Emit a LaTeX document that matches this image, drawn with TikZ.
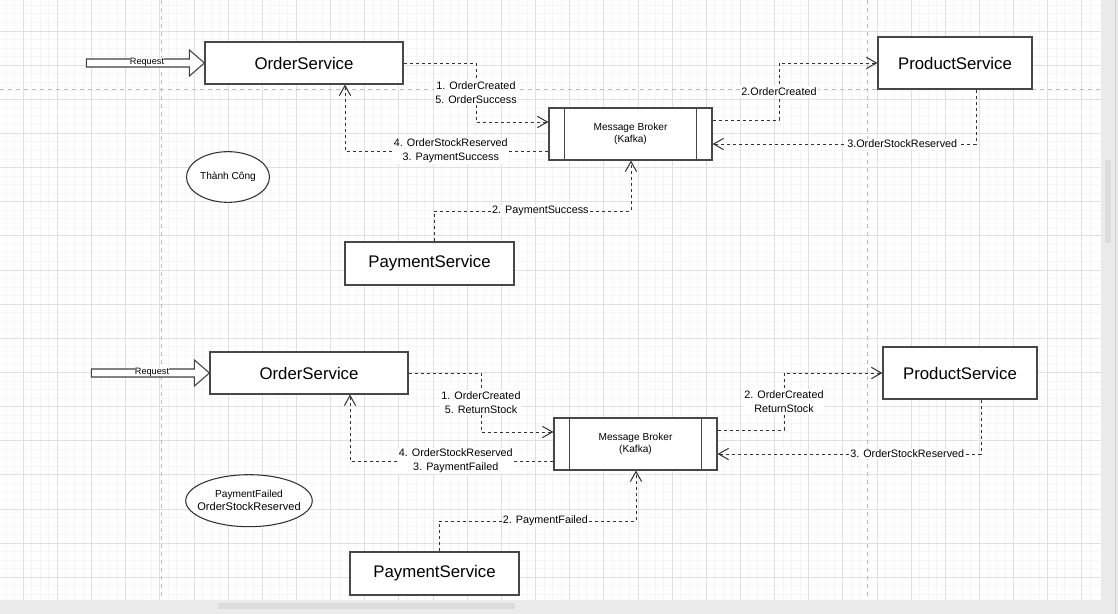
\documentclass[tikz,border=0pt]{standalone}
\usepackage{fontspec}
\setmainfont{Liberation Sans}
\usetikzlibrary{arrows.meta, shapes.geometric, positioning}
\definecolor{gridminor}{HTML}{F6F6F6}
\definecolor{gridmajor}{HTML}{E0E0E0}
\definecolor{pageline}{HTML}{BDBDBD}
\definecolor{edgegray}{HTML}{333333}
\definecolor{uibar}{HTML}{EBEBEB}
\definecolor{uithumb}{HTML}{DCDCDC}
\tikzset{
  service/.style={draw=black!72, line width=0.9pt, fill=white, inner sep=0pt, font=\fontsize{12.6}{15}\selectfont},
  broker/.style={draw=black!72, line width=0.9pt, fill=white, minimum width=122.25pt, minimum height=39pt, align=center, font=\fontsize{7.6}{9}\selectfont},
  flow/.style={draw=edgegray, line width=0.75pt, dash pattern=on 2.25pt off 2.25pt, -{Straight Barb[length=7.5pt,width=8.5pt]}},
  lbl/.style={fill=white, inner sep=1pt, align=center, font=\fontsize{8.1}{10.5}\selectfont},
  reqarrow/.style={draw=black!75, line width=0.8pt, fill=white},
  note/.style={ellipse, draw=black!80, line width=0.8pt, fill=white, inner sep=0pt, align=center}
}

\begin{document}
\begin{tikzpicture}[x=0.75pt, y=-0.75pt]
\useasboundingbox (0,0) rectangle (1118,614);
\fill[white] (0,0) rectangle (1118,614);
% grid
\foreach \i in {0,...,127} \draw[gridminor, line width=0.75pt] ({6.225+\i*8.5375},0) -- ({6.225+\i*8.5375},600);
\foreach \i in {0,...,69} \draw[gridminor, line width=0.75pt] (0,{5.39+\i*8.5375}) -- (1101,{5.39+\i*8.5375});
\foreach \i in {0,...,31} \draw[gridmajor, line width=0.75pt] ({23.3+\i*34.15},0) -- ({23.3+\i*34.15},600);
\foreach \i in {0,...,16} \draw[gridmajor, line width=0.75pt] (0,{31+\i*34.15}) -- (1101,{31+\i*34.15});
% page breaks
\draw[pageline, line width=0.75pt, dash pattern=on 3pt off 3pt] (0,89) -- (1101,89);
\draw[pageline, line width=0.75pt, dash pattern=on 3pt off 3pt] (161.5,0) -- (161.5,600);
\draw[pageline, line width=0.75pt, dash pattern=on 3pt off 3pt] (867,0) -- (867,600);
% scroll bars
\fill[uibar] (1101,0) rectangle (1118,614);
\fill[uibar] (0,600) rectangle (1101,614);
\draw[black!18, line width=0.75pt] (1115.5,0) -- (1115.5,614);
\fill[uithumb] (1104.5,160) rectangle (1111,243);
\fill[uithumb] (218,603) rectangle (515,609);

% Top: Thanh Cong flow
\begin{scope}[shift={(0,0)}]
\node[service, minimum width=148.5pt, minimum height=31.5pt] (os1) at (304,63) {OrderService};
\node[service, minimum width=115.5pt, minimum height=39pt] (ps1) at (955,63) {ProductService};
\node[service, minimum width=126.75pt, minimum height=32.25pt] (pay1) at (429.5,263.5) {PaymentService};
\node[broker] (mb1) at (630.5,134) {Message Broker\\(Kafka)};
\draw[black!72, line width=0.9pt] ([xshift=12pt]mb1.north west) -- ([xshift=12pt]mb1.south west)
  ([xshift=-12pt]mb1.north east) -- ([xshift=-12pt]mb1.south east);
\node[note, minimum width=62.25pt, minimum height=38pt, font=\fontsize{7.6}{9}\selectfont] (st1) at (228,177) {Thành Công};
\draw[reqarrow] (os1.west) -- ++(-15,-13) -- ++(0,9) -- ++(-103,0) -- ++(0,8) -- ++(103,0) -- ++(0,9) -- cycle;
\node[fill=white, inner sep=0pt, font=\fontsize{6.9}{8}\selectfont] (req1) at (147,62) {Request};
\draw[flow] (os1.east) -| (476,122) node[lbl, pos=0.75] {1. OrderCreated\\5. OrderSuccess} -- (mb1.west |- 0,122);
\draw[flow] (mb1.west |- 0,151) -| (os1.south -| 345,0) node[lbl, pos=0.24] {4. OrderStockReserved\\3. PaymentSuccess};
\draw[flow] (mb1.east |- 0,120) -| (779,63) node[lbl, pos=0.75] {2.OrderCreated} -- (ps1.west);
\draw[flow] (ps1.south -| 976,0) |- (mb1.east |- 0,144) node[lbl, pos=0.64] {3.OrderStockReserved};
\draw[flow] (pay1.north -| 434,0) |- (631,211) node[lbl, pos=0.77] {2. PaymentSuccess} -- (mb1.south -| 631,0);
\end{scope}

% Bottom: PaymentFailed flow
\begin{scope}[shift={(5,310)}]
\node[service, minimum width=148.5pt, minimum height=31.5pt] (os2) at (304,63) {OrderService};
\node[service, minimum width=115.5pt, minimum height=39pt] (ps2) at (955,63) {ProductService};
\node[service, minimum width=126.75pt, minimum height=32.25pt] (pay2) at (429.5,263.5) {PaymentService};
\node[broker] (mb2) at (630.5,134) {Message Broker\\(Kafka)};
\draw[black!72, line width=0.9pt] ([xshift=12pt]mb2.north west) -- ([xshift=12pt]mb2.south west)
  ([xshift=-12pt]mb2.north east) -- ([xshift=-12pt]mb2.south east);
\node[note, minimum width=94.5pt, minimum height=39pt, inner xsep=-5.2pt, font=\fontsize{8.3}{9.75}\selectfont] (st2) at (244,190.7) {{\fontsize{7.6}{9.75}\selectfont PaymentFailed}\\OrderStockReserved};
\draw[reqarrow] (os2.west) -- ++(-15,-13) -- ++(0,9) -- ++(-103,0) -- ++(0,8) -- ++(103,0) -- ++(0,9) -- cycle;
\node[fill=white, inner sep=0pt, font=\fontsize{6.9}{8}\selectfont] (req2) at (147,62) {Request};
\draw[flow] (os2.east) -| (476,122) node[lbl, pos=0.75] {1. OrderCreated\\5. ReturnStock} -- (mb2.west |- 0,122);
\draw[flow] (mb2.west |- 0,151) -| (os2.south -| 345,0) node[lbl, pos=0.24] {4. OrderStockReserved\\3. PaymentFailed};
\draw[flow] (mb2.east |- 0,120) -| (779,63) node[lbl, pos=0.75] {2. OrderCreated\\ReturnStock} -- (ps2.west);
\draw[flow] (ps2.south -| 976,0) |- (mb2.east |- 0,144) node[lbl, pos=0.64] {3. OrderStockReserved};
\draw[flow] (pay2.north -| 434,0) |- (631,211) node[lbl, pos=0.77] {2. PaymentFailed} -- (mb2.south -| 631,0);
\end{scope}
\end{tikzpicture}
\end{document}
